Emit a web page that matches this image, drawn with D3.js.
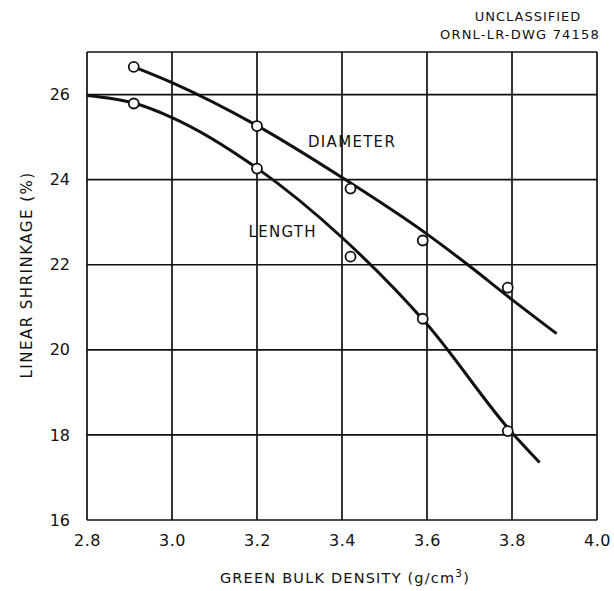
<!DOCTYPE html>
<html>
<head>
<meta charset="utf-8">
<script src="https://cdn.jsdelivr.net/npm/d3@7"></script>
<style>
  html, body { margin: 0; padding: 0; background: #fff; }
  svg { display: block; }
  text { font-family: "DejaVu Sans", "Liberation Sans", sans-serif; fill: #111; }
</style>
</head>
<body>
<svg id="chart" width="614" height="591"></svg>
<script>
// ---- data ----
const xTicks = [2.8, 3.0, 3.2, 3.4, 3.6, 3.8, 4.0];
const xTickLabels = ["2.8", "3.0", "3.2", "3.4", "3.6", "3.8", "4.0"];
const yTicks = [16, 18, 20, 22, 24, 26];
const yTickLabels = ["16", "18", "20", "22", "24", "26"];

const diameterDensity = [2.91, 3.20, 3.42, 3.59, 3.79];
const diameterShrink  = [26.65, 25.26, 23.79, 22.57, 21.46];
const lengthDensity   = [2.91, 3.20, 3.42, 3.59, 3.79];
const lengthShrink    = [25.79, 24.26, 22.19, 20.73, 18.09];

// fitted curves as drawn in the original
const diameterFitX = [2.91, 3.0, 3.2, 3.4, 3.6, 3.7, 3.8, 3.905];
const diameterFitY = [26.65, 26.28, 25.27, 24.05, 22.72, 21.97, 21.18, 20.38];
const lengthFitX = [2.8, 2.91, 3.0, 3.2, 3.4, 3.6, 3.8, 3.865];
const lengthFitY = [25.98, 25.80, 25.46, 24.27, 22.64, 20.60, 18.05, 17.35];

const seriesLabels = ["DIAMETER", "LENGTH"];

// ---- layout ----
const svg = d3.select("#chart");
const mLeft = 87, mRight = 597, mTop = 52, mBottom = 520;
const x = d3.scaleLinear().domain([2.8, 4.0]).range([mLeft, mRight]);
const y = d3.scaleLinear().domain([16, 27]).range([mBottom, mTop]);

// grid
const g = svg.append("g");
g.selectAll("line.v").data(xTicks).join("line")
  .attr("x1", d => x(d)).attr("x2", d => x(d))
  .attr("y1", mTop).attr("y2", mBottom)
  .attr("stroke", "#111").attr("stroke-width", 1.7);
g.selectAll("line.h").data(yTicks.concat([27])).join("line")
  .attr("x1", mLeft).attr("x2", mRight)
  .attr("y1", d => y(d)).attr("y2", d => y(d))
  .attr("stroke", "#111").attr("stroke-width", 1.7);

// axes (labels only)
const xAxis = d3.axisBottom(x).tickValues(xTicks)
  .tickFormat((d, i) => xTickLabels[i]).tickSize(0).tickPadding(15);
const ax = svg.append("g").attr("transform", `translate(0,${mBottom})`).call(xAxis);
ax.select(".domain").remove();
ax.selectAll("text").style("font-size", "16px").style("letter-spacing", "0.5px")
  .style("font-family", "DejaVu Sans, sans-serif").attr("fill", "#111");

const yAxis = d3.axisLeft(y).tickValues(yTicks)
  .tickFormat((d, i) => yTickLabels[i]).tickSize(0).tickPadding(17);
const ay = svg.append("g").attr("transform", `translate(${mLeft},0)`).call(yAxis);
ay.select(".domain").remove();
ay.selectAll("text").style("font-size", "16px")
  .style("font-family", "DejaVu Sans, sans-serif").attr("fill", "#111");

// curves
const line = d3.line().x(d => x(d[0])).y(d => y(d[1])).curve(d3.curveMonotoneX);
svg.append("path").datum(diameterFitX.map((d, i) => [d, diameterFitY[i]]))
  .attr("d", line).attr("fill", "none").attr("stroke", "#111").attr("stroke-width", 3);
svg.append("path").datum(lengthFitX.map((d, i) => [d, lengthFitY[i]]))
  .attr("d", line).attr("fill", "none").attr("stroke", "#111").attr("stroke-width", 3);

// points
const pts = diameterDensity.map((d, i) => [d, diameterShrink[i]])
  .concat(lengthDensity.map((d, i) => [d, lengthShrink[i]]));
svg.selectAll("circle.pt").data(pts).join("circle")
  .attr("cx", d => x(d[0])).attr("cy", d => y(d[1])).attr("r", 5)
  .attr("fill", "#fff").attr("stroke", "#111").attr("stroke-width", 1.8);

// series labels
svg.append("text").attr("x", x(3.32)).attr("y", y(24.76))
  .style("font-size", "15px").style("letter-spacing", "1.3px").text(seriesLabels[0]);
svg.append("text").attr("x", x(3.18)).attr("y", y(22.64))
  .style("font-size", "15px").style("letter-spacing", "1.3px").text(seriesLabels[1]);

// axis titles
svg.append("text").attr("x", 345).attr("y", 583)
  .attr("text-anchor", "middle").style("font-size", "14.5px").style("letter-spacing", "1.2px")
  .html('GREEN BULK DENSITY (g/cm<tspan dy="-6" font-size="10.5px">3</tspan><tspan dy="6">)</tspan>');
svg.append("text").attr("transform", `translate(32,275) rotate(-90)`)
  .attr("text-anchor", "middle").style("font-size", "15px").style("letter-spacing", "1.5px")
  .text("LINEAR SHRINKAGE (%)");

// header
svg.append("text").attr("x", 528).attr("y", 21).attr("text-anchor", "middle")
  .style("font-size", "13px").style("letter-spacing", "1px").text("UNCLASSIFIED");
svg.append("text").attr("x", 600).attr("y", 39).attr("text-anchor", "end")
  .style("font-size", "13px").style("letter-spacing", "1.2px").text("ORNL-LR-DWG 74158");
</script>
</body>
</html>
